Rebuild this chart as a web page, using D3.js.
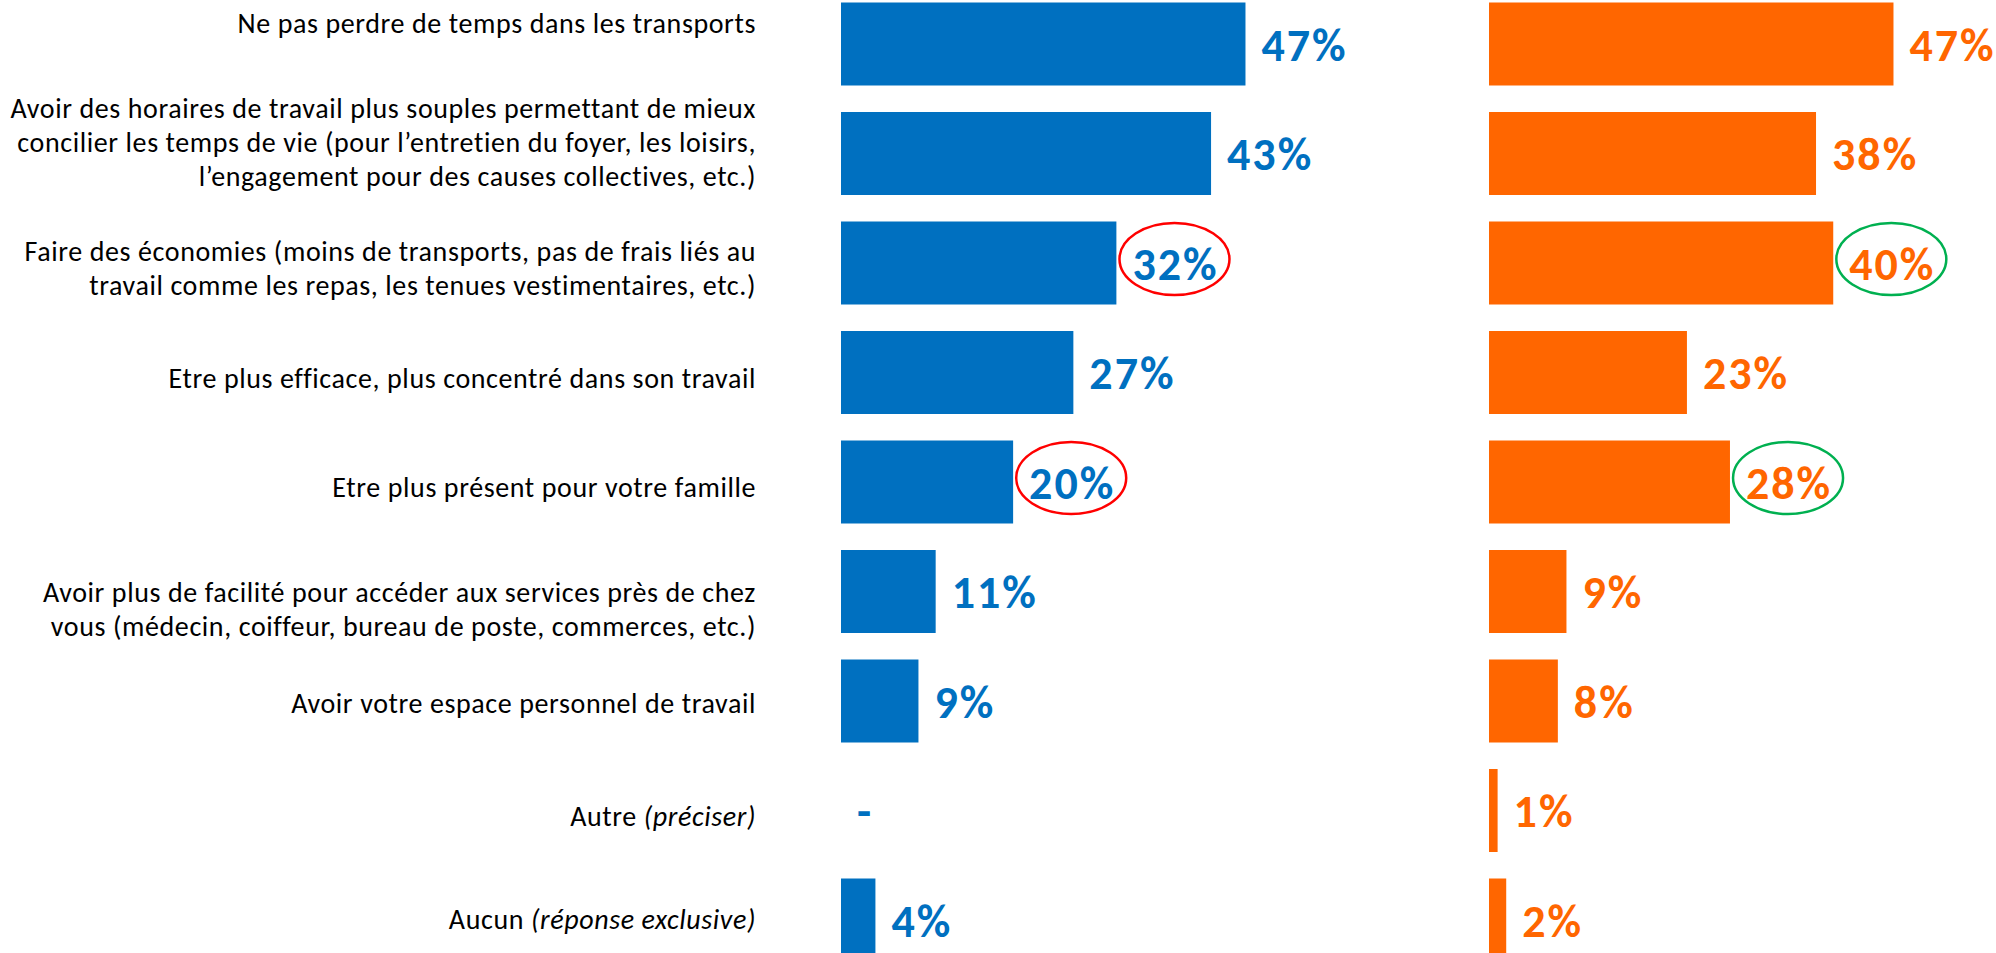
<!DOCTYPE html>
<html>
<head>
<meta charset="utf-8">
<script src="https://cdn.jsdelivr.net/npm/d3@7/dist/d3.min.js"></script>
<style>
  html, body { margin: 0; padding: 0; background: #ffffff; }
  svg { display: block; }
  text { font-variant-ligatures: none; font-feature-settings: "liga" 0, "dlig" 0; }
</style>
</head>
<body>
<svg id="chart" width="1996" height="953"></svg>
<script>
// ---------- DATA ----------
const categories = [
  "Ne pas perdre de temps dans les transports",
  "Avoir des horaires de travail plus souples permettant de mieux concilier les temps de vie (pour l’entretien du foyer, les loisirs, l’engagement pour des causes collectives, etc.)",
  "Faire des économies (moins de transports, pas de frais liés au travail comme les repas, les tenues vestimentaires, etc.)",
  "Etre plus efficace, plus concentré dans son travail",
  "Etre plus présent pour votre famille",
  "Avoir plus de facilité pour accéder aux services près de chez vous (médecin, coiffeur, bureau de poste, commerces, etc.)",
  "Avoir votre espace personnel de travail",
  "Autre (préciser)",
  "Aucun (réponse exclusive)"
];
const categoryLines = [
  ["Ne pas perdre de temps dans les transports"],
  ["Avoir des horaires de travail plus souples permettant de mieux",
   "concilier les temps de vie (pour l’entretien du foyer, les loisirs,",
   "l’engagement pour des causes collectives, etc.)"],
  ["Faire des économies (moins de transports, pas de frais liés au",
   "travail comme les repas, les tenues vestimentaires, etc.)"],
  ["Etre plus efficace, plus concentré dans son travail"],
  ["Etre plus présent pour votre famille"],
  ["Avoir plus de facilité pour accéder aux services près de chez",
   "vous (médecin, coiffeur, bureau de poste, commerces, etc.)"],
  ["Avoir votre espace personnel de travail"],
  ["Autre "],
  ["Aucun "]
];
const categoryItalic = [null, null, null, null, null, null, null, "(préciser)", "(réponse exclusive)"];

const seriesBlue   = [47, 43, 32, 27, 20, 11, 9, null, 4];
const seriesOrange = [47, 38, 40, 23, 28, 9, 8, 1, 2];

const highlightBlue   = [2, 4];   // circled in red
const highlightOrange = [2, 4];   // circled in green

// ---------- LAYOUT / STYLE ----------
const BLUE = "#0070C0", ORANGE = "#FF6600", RED = "#FF0000", GREEN = "#00B050";
const labelFont = "Carlito, Calibri, Lato, sans-serif";
const labelSize = 28, labelSpacing = 0.6, lineH = 34;
const valueSize = 46, valueSpacing = 2;
const labelRight = 756;
const labelDy = [-26, -16.5, 0, 0, 0, 12, -3, 0, -6];

const svg = d3.select("#chart");

const y = d3.scaleBand()
  .domain(categories)
  .range([-10.75, 974.75])
  .paddingInner(0.242)
  .paddingOuter(0.121);

const x = d3.scaleLinear().domain([0, 100]).range([0, 860.6]);

const panels = [
  { x0: 841,  values: seriesBlue,   color: BLUE,   ring: RED,   hl: highlightBlue },
  { x0: 1489, values: seriesOrange, color: ORANGE, ring: GREEN, hl: highlightOrange }
];

// category labels
const lab = svg.append("g")
  .attr("font-family", labelFont)
  .attr("font-size", labelSize)
  .attr("letter-spacing", labelSpacing)
  .attr("fill", "#000")
  .attr("text-anchor", "end");

categories.forEach((c, i) => {
  const lines = categoryLines[i];
  const n = lines.length;
  const center = y(c) + y.bandwidth() / 2;
  lines.forEach((ln, j) => {
    const t = lab.append("text")
      .attr("x", labelRight)
      .attr("y", center + 15 + labelDy[i] - (n - 1) * lineH / 2 + j * lineH);
    t.append("tspan").text(ln);
    if (categoryItalic[i] && j === n - 1) {
      t.append("tspan").attr("font-style", "italic").text(categoryItalic[i]);
    }
  });
});

// bars + values
panels.forEach(p => {
  const g = svg.append("g").attr("transform", `translate(${p.x0},0)`);
  g.selectAll("rect")
    .data(categories.map((c, i) => ({ c, v: p.values[i] })).filter(d => d.v != null))
    .join("rect")
    .attr("x", 0)
    .attr("y", d => y(d.c))
    .attr("width", d => x(d.v))
    .attr("height", y.bandwidth())
    .attr("fill", p.color);

  categories.forEach((c, i) => {
    const v = p.values[i];
    const center = y(c) + y.bandwidth() / 2;
    const tx = x(v == null ? 0 : v) + 16;
    const t = g.append("text")
      .attr("x", tx)
      .attr("y", center + 16.5)
      .attr("font-family", labelFont)
      .attr("font-weight", "bold")
      .attr("font-size", valueSize)
      .attr("letter-spacing", valueSpacing)
      .attr("fill", p.color)
      .text(v == null ? "-" : v + "%");
    if (p.hl.includes(i)) {
      const bb = t.node().getBBox();
      g.append("ellipse")
        .attr("cx", bb.x + (bb.width - valueSpacing) / 2)
        .attr("cy", center - 4)
        .attr("rx", 55)
        .attr("ry", 36)
        .attr("fill", "none")
        .attr("stroke", p.ring)
        .attr("stroke-width", 2.5);
    }
  });
});
</script>
</body>
</html>
